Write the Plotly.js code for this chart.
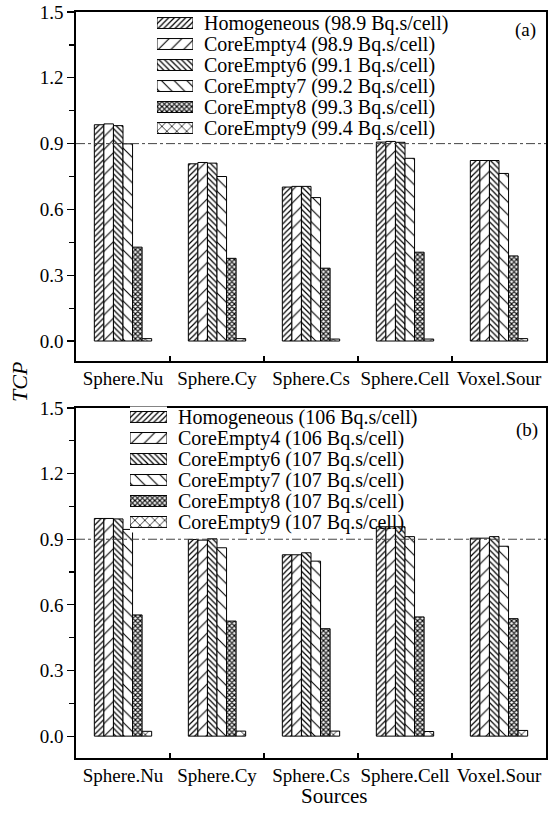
<!DOCTYPE html>
<html>
<head>
<meta charset="utf-8">
<script src="https://cdn.plot.ly/plotly-3.0.1.min.js"></script>
<style>html,body{margin:0;padding:0;background:#fff;}#chart{width:548px;height:817px;}</style>
</head>
<body>
<div id="chart"></div>
<script>
// ---------- data ----------
const categories = ['Sphere.Nu', 'Sphere.Cy', 'Sphere.Cs', 'Sphere.Cell', 'Voxel.Sour'];
const seriesKeys = ['Homogeneous', 'CoreEmpty4', 'CoreEmpty6', 'CoreEmpty7', 'CoreEmpty8', 'CoreEmpty9'];
const activitiesA = ['98.9', '98.9', '99.1', '99.2', '99.3', '99.4'];
const activitiesB = ['106', '106', '107', '107', '107', '107'];

// panel (a)
const homogeneousA = [0.986, 0.808, 0.702, 0.907, 0.823];
const coreEmpty4A  = [0.990, 0.814, 0.705, 0.910, 0.823];
const coreEmpty6A  = [0.982, 0.811, 0.705, 0.906, 0.823];
const coreEmpty7A  = [0.899, 0.750, 0.654, 0.833, 0.764];
const coreEmpty8A  = [0.428, 0.377, 0.332, 0.405, 0.388];
const coreEmpty9A  = [0.011, 0.011, 0.009, 0.009, 0.011];

// panel (b)
const homogeneousB = [0.995, 0.899, 0.829, 0.957, 0.905];
const coreEmpty4B  = [0.995, 0.896, 0.829, 0.957, 0.905];
const coreEmpty6B  = [0.993, 0.902, 0.838, 0.957, 0.912];
const coreEmpty7B  = [0.945, 0.861, 0.800, 0.912, 0.868];
const coreEmpty8B  = [0.554, 0.526, 0.491, 0.545, 0.537];
const coreEmpty9B  = [0.022, 0.023, 0.023, 0.021, 0.026];

const referenceTCP = 0.9;

// ---------- styles ----------
const FONT = 'Liberation Serif, Times New Roman, serif';
const patterns = [
  {shape: '/',  size: 4,   solidity: 0.3},
  {shape: '/',  size: 9,   solidity: 0.12},
  {shape: '\\', size: 4,   solidity: 0.3},
  {shape: '\\', size: 9,   solidity: 0.12},
  {shape: 'x',  size: 3.5, solidity: 0.55},
  {shape: 'x',  size: 7,   solidity: 0.2}
];

const seriesA = [homogeneousA, coreEmpty4A, coreEmpty6A, coreEmpty7A, coreEmpty8A, coreEmpty9A];
const seriesB = [homogeneousB, coreEmpty4B, coreEmpty6B, coreEmpty7B, coreEmpty8B, coreEmpty9B];
const labelsA = seriesKeys.map((k, i) => k + ' (' + activitiesA[i] + ' Bq.s/cell)');
const labelsB = seriesKeys.map((k, i) => k + ' (' + activitiesB[i] + ' Bq.s/cell)');

function barTrace(vals, i, name, xa, ya) {
  return {
    type: 'bar', x: categories, y: vals, name: name, xaxis: xa, yaxis: ya,
    showlegend: false, hoverinfo: 'skip',
    marker: {
      color: 'white',
      line: {color: 'black', width: 1},
      pattern: {shape: patterns[i].shape, size: patterns[i].size, solidity: patterns[i].solidity,
                fgcolor: 'black', bgcolor: 'white', fillmode: 'replace'}
    }
  };
}

function legendTrace(labels, xa, ya) {
  return {
    type: 'bar', orientation: 'h', y: labels, x: labels.map(() => 1), base: 0,
    width: 0.52, xaxis: xa, yaxis: ya, showlegend: false, hoverinfo: 'skip',
    marker: {
      color: 'white',
      line: {color: 'black', width: 1},
      pattern: {shape: patterns.map(p => p.shape), size: patterns.map(p => p.size),
                solidity: patterns.map(p => p.solidity), fgcolor: 'black', bgcolor: 'white',
                fillmode: 'replace'}
    }
  };
}

const traces = [];
seriesA.forEach((s, i) => traces.push(barTrace(s, i, labelsA[i], 'x', 'y')));
seriesB.forEach((s, i) => traces.push(barTrace(s, i, labelsB[i], 'x2', 'y2')));
traces.push(legendTrace(labelsA, 'x3', 'y3'));
traces.push(legendTrace(labelsB, 'x4', 'y4'));

const tickFont = {family: FONT, size: 19, color: 'black'};

function xAxis(anchor) {
  return {
    anchor: anchor, domain: [0, 1], type: 'category', categoryorder: 'array', categoryarray: categories,
    range: [-0.5, 4.5], tickson: 'boundaries', ticks: 'inside', ticklen: 5, tickwidth: 1.2,
    tickcolor: 'black', showline: true, mirror: true, linecolor: 'black', linewidth: 1.6,
    tickmode: 'array', tickvals: categories, ticktext: categories, tickangle: 0,
    showgrid: false, zeroline: false, tickfont: tickFont, fixedrange: true
  };
}
function yAxis(anchor, domain, lo) {
  return {
    anchor: anchor, domain: domain, range: [lo, 1.5001], tick0: 0, dtick: 0.3, tickformat: '.1f',
    ticks: 'outside', ticklen: 7, tickwidth: 1.2, tickcolor: 'black',
    minor: {dtick: 0.15, tick0: 0, ticks: 'outside', ticklen: 5, tickwidth: 1.2, tickcolor: 'black', showgrid: false},
    showline: true, mirror: true, linecolor: 'black', linewidth: 1.6,
    showgrid: false, zeroline: false, tickfont: tickFont, fixedrange: true
  };
}
function legX(domain, anchor) {
  return {domain: domain, anchor: anchor, range: [0, 1], visible: false, fixedrange: true};
}
function legY(domain, anchor, labels) {
  return {
    domain: domain, anchor: anchor, type: 'category', categoryorder: 'array', categoryarray: labels,
    tickmode: 'array', tickvals: labels, ticktext: labels,
    autorange: 'reversed', side: 'right', showline: false, showgrid: false, zeroline: false,
    ticks: '', ticklabelstandoff: 10, tickfont: {family: FONT, size: 20, color: 'black'}, fixedrange: true
  };
}

const layout = {
  width: 548, height: 817,
  margin: {l: 76, r: 2, t: 12, b: 59},
  paper_bgcolor: 'white', plot_bgcolor: 'white',
  barmode: 'group', bargap: 0.39, bargroupgap: 0,
  showlegend: false,
  font: {family: FONT, color: 'black'},
  xaxis: xAxis('y'),
  yaxis: yAxis('x', [0.5322, 1], -0.091),
  xaxis2: xAxis('y2'),
  yaxis2: yAxis('x2', [0, 0.4692], -0.1),
  xaxis3: legX([0.1723, 0.2489], 'y3'),
  yaxis3: legY([0.8304, 0.9993], 'x3', labelsA),
  xaxis4: legX([0.1149, 0.1936], 'y4'),
  yaxis4: legY([0.3023, 0.4712], 'x4', labelsB),
  shapes: [
    {type: 'line', xref: 'x domain', yref: 'y', x0: 0, x1: 1, y0: referenceTCP, y1: referenceTCP,
     line: {color: '#444', width: 1, dash: 'dashdot'}},
    {type: 'line', xref: 'x2 domain', yref: 'y2', x0: 0, x1: 1, y0: referenceTCP, y1: referenceTCP,
     line: {color: '#444', width: 1, dash: 'dashdot'}}
  ],
  annotations: [
    {text: '(a)', xref: 'paper', yref: 'paper', x: 0.9574, y: 0.9759, xanchor: 'center', yanchor: 'middle',
     showarrow: false, font: {family: FONT, size: 19, color: 'black'}},
    {text: '(b)', xref: 'paper', yref: 'paper', x: 0.9596, y: 0.4397, xanchor: 'center', yanchor: 'middle',
     showarrow: false, font: {family: FONT, size: 19, color: 'black'}},
    {text: '<i>TCP</i>', xref: 'paper', yref: 'paper', x: -0.1213, y: 0.504, xanchor: 'center', yanchor: 'middle',
     textangle: -90, showarrow: false, font: {family: FONT, size: 22, color: 'black'}},
    {text: 'Sources', xref: 'paper', yref: 'paper', x: 0.549, y: -0.0509, xanchor: 'center', yanchor: 'middle',
     showarrow: false, font: {family: FONT, size: 21, color: 'black'}}
  ]
};

Plotly.newPlot('chart', traces, layout, {displayModeBar: false, staticPlot: true});
</script>
</body>
</html>
